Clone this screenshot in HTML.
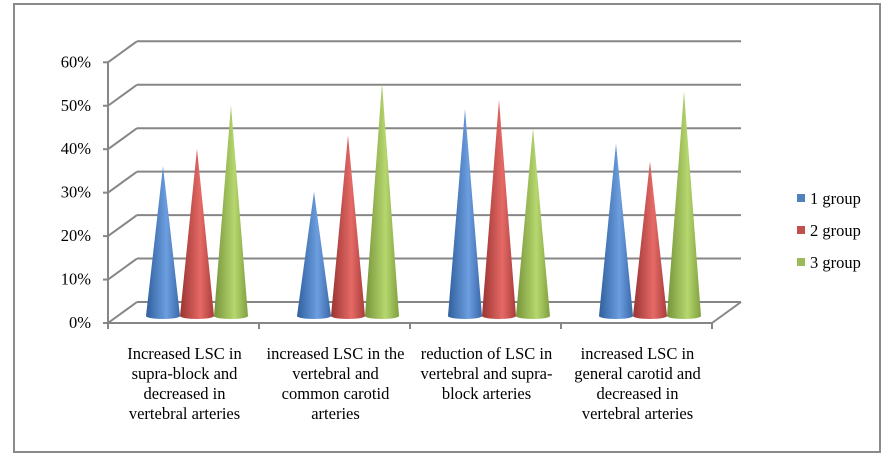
<!DOCTYPE html>
<html><head><meta charset="utf-8"><style>
html,body{margin:0;padding:0;background:#fff;}
svg{display:block;font-family:"Liberation Serif",serif;}
</style></head><body>
<svg id="chart" width="895" height="458" xmlns="http://www.w3.org/2000/svg">
<defs>
<linearGradient id="gBlue" x1="0" x2="1" y1="0" y2="0"><stop offset="0" stop-color="#2f5f9c"/><stop offset="0.6" stop-color="#6c9ee0"/><stop offset="1" stop-color="#3a68a8"/></linearGradient>
<linearGradient id="gRed" x1="0" x2="1" y1="0" y2="0"><stop offset="0" stop-color="#9a3432"/><stop offset="0.6" stop-color="#e56a66"/><stop offset="1" stop-color="#a83c3a"/></linearGradient>
<linearGradient id="gGreen" x1="0" x2="1" y1="0" y2="0"><stop offset="0" stop-color="#76943a"/><stop offset="0.6" stop-color="#b6d66e"/><stop offset="1" stop-color="#80a040"/></linearGradient>
</defs>
<rect x="14" y="4" width="866" height="448" fill="#fff" stroke="#8a8a8a" stroke-width="2"/>
<g id="grid"></g>
<g id="cones"></g>
<g id="labels"></g>
<g id="legend"></g>
</svg>
<script>
const categories = [
  ["Increased LSC in","supra-block and","decreased in","vertebral arteries"],
  ["increased LSC in the","vertebral and","common carotid","arteries"],
  ["reduction of LSC in","vertebral and supra-","block arteries"],
  ["increased LSC in","general carotid and","decreased in","vertebral arteries"]
];
const seriesNames = ["1 group","2 group","3 group"];
const group1 = [34.5, 28.6, 47.6, 39.7];
const group2 = [38.5, 41.6, 49.7, 35.6];
const group3 = [48.5, 53.6, 43.2, 51.7];
const yTicks = [0,10,20,30,40,50,60];
const yTickLabels = ["0%","10%","20%","30%","40%","50%","60%"];

const NS="http://www.w3.org/2000/svg";
function mk(tag,attrs,parent){const e=document.createElementNS(NS,tag);for(const k in attrs)e.setAttribute(k,attrs[k]);parent.appendChild(e);return e;}
const fx0=108,fx1=712,fy0=323,dx=29,dy=-21,unit=4.345;
const yFront=v=>fy0-v*unit;
const coneBase=316;
const yCone=v=>coneBase-v*unit;
const catW=(fx1-fx0)/categories.length;
const grid=document.getElementById('grid');
const gc="#868686";
yTicks.forEach((t,i)=>{
  const y=yFront(t);
  const l1=mk('line',{x1:fx0,y1:y,x2:fx0+dx,y2:y+dy,stroke:gc,'stroke-width':2},grid);
  
  
  const l2=mk('line',{x1:fx0+dx,y1:y+dy,x2:fx1+dx,y2:y+dy,stroke:gc,'stroke-width':2},grid);
  
  
  const tk=mk('line',{x1:fx0-5,y1:y,x2:fx0,y2:y,stroke:gc,'stroke-width':2},grid);
  
  
  const tx=mk('text',{x:91,y:y+5,'text-anchor':'end','font-size':16.5,fill:'#000'},grid);
  tx.textContent=yTickLabels[i];
  
  
});
const ax=mk('line',{x1:fx0,y1:yFront(60),x2:fx0,y2:fy0,stroke:gc,'stroke-width':2},grid);


const bx=mk('line',{x1:fx0,y1:fy0,x2:fx1,y2:fy0,stroke:gc,'stroke-width':2},grid);


const rx=mk('line',{x1:fx1,y1:fy0,x2:fx1+dx,y2:fy0+dy,stroke:gc,'stroke-width':2},grid);


for(let i=0;i<=categories.length;i++){
  const x=fx0+i*catW;
  const t=mk('line',{x1:x,y1:fy0,x2:x,y2:fy0+6,stroke:gc,'stroke-width':2},grid);
  
  
}
const cones=document.getElementById('cones');
const series=[group1,group2,group3];
const fills=["url(#gBlue)","url(#gRed)","url(#gGreen)"];
const offs=[55,89,123];
categories.forEach((c,ci)=>{
  series.forEach((s,si)=>{
    const cx=fx0+ci*catW+offs[si];
    const ty=yCone(s[ci]);
    const hw=17;
    const p=mk('path',{d:`M${cx-hw},${coneBase} L${cx},${ty} L${cx+hw},${coneBase} A${hw},3 0 0 1 ${cx-hw},${coneBase} Z`,fill:fills[si]},cones);
    
    
  });
});
const labels=document.getElementById('labels');
categories.forEach((lines,ci)=>{
  const cx=fx0+ci*catW+catW/2+1;
  const t=mk('text',{x:cx,y:359,'text-anchor':'middle','font-size':16.5,fill:'#000'},labels);
  
  
  lines.forEach((ln,li)=>{
    const ts=mk('tspan',{x:cx,dy:li===0?0:20},t);
    ts.textContent=ln;
  });
});
const legend=document.getElementById('legend');
const lcol=["#4f81bd","#c0504d","#9bbb59"];
seriesNames.forEach((n,i)=>{
  const y=199+i*32;
  const g=mk('g',{},legend);
  
  
  mk('rect',{x:797,y:y-5,width:8,height:8,fill:lcol[i]},g);
  const t=mk('text',{x:810,y:y+5,'font-size':16.5,fill:'#000'},g);
  t.textContent=n;
});
</script>
</body></html>
